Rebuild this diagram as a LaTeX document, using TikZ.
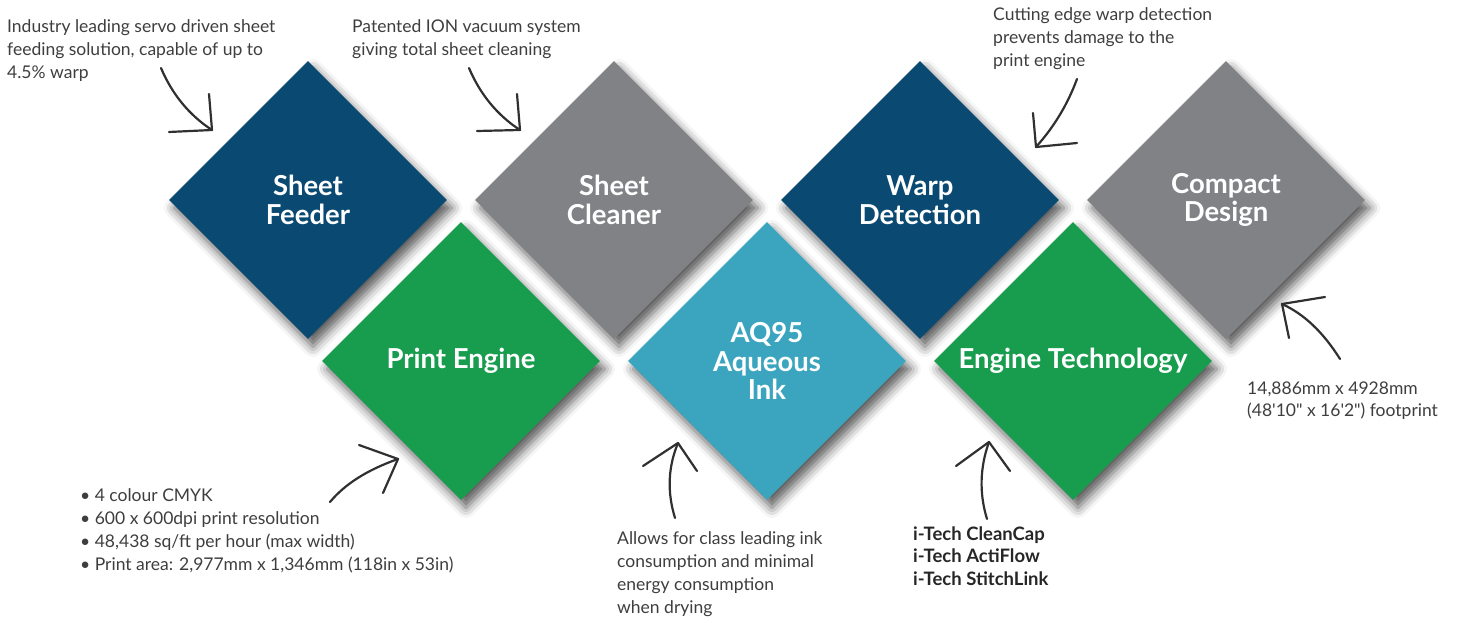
\documentclass[tikz,border=0pt]{standalone}
\usepackage{fontspec}
\setmainfont{Lato}
\usepackage{tikz}
\usetikzlibrary{shapes.geometric,shadows.blur}
\definecolor{navy}{RGB}{10,74,114}
\definecolor{slate}{RGB}{128,130,134}
\definecolor{leaf}{RGB}{24,156,78}
\definecolor{aqua}{RGB}{59,165,192}
\definecolor{ink}{RGB}{62,62,64}
\definecolor{pen}{RGB}{48,48,50}
\tikzset{
	tile/.style={diamond,aspect=1,inner sep=0pt,minimum width=278pt,minimum height=278pt,text=white,align=center,
		font=\fontsize{27.5}{28.5}\selectfont\bfseries,
		blur shadow={shadow xshift=5pt,shadow yshift=-8pt,shadow blur radius=10pt,shadow opacity=65}},
	note/.style={anchor=base west,inner sep=0pt,align=left,text=ink,font=\fontsize{17.5}{23}\selectfont},
	hand/.style={draw=pen,line width=2.2pt,line cap=round,line join=round}
}
\begin{document}
\begin{tikzpicture}[x=1pt,y=-1pt]
	\useasboundingbox (0,0) rectangle (1457,620);

	\node [tile,fill=navy] (feeder) at (308,200) {Sheet\\Feeder};
	\node [tile,fill=slate] (cleaner) at (614,200) {Sheet\\Cleaner};
	\node [tile,fill=navy] (warp) at (920,200) {Warp\\Detection};
	\node [tile,fill=slate] (compact) at (1226,200) {Compact\\Design};
	\node [tile,fill=leaf] (engine) at (461,361) {Print Engine};
	\node [tile,fill=aqua] (ink) at (767,361) {AQ95\\Aqueous\\Ink};
	\node [tile,fill=leaf] (tech) at (1073,361) {Engine Technology};

	% notes sit on the baseline of their last line
	\node [note] (nfeeder) at (7,79) {Industry leading servo driven sheet\\feeding solution, capable of up to\\4.5\% warp};
	\node [note] (ncleaner) at (352,56) {Patented ION vacuum system\\giving total sheet cleaning};
	\node [note] (nwarp) at (993,67) {Cutting edge warp detection\\prevents damage to the\\print engine};
	\node [note] (ncompact) at (1247,417) {14,886mm x 4928mm\\(48\textquotesingle10\textquotedbl{} x 16\textquotesingle2\textquotedbl) footprint};
	\node [note] (nengine) at (80,570) {\textbullet{} 4 colour CMYK\\\textbullet{} 600 x 600dpi print resolution\\\textbullet{} 48,438 sq/ft per hour (max width)\\\textbullet{} Print area: 2,977mm x 1,346mm (118in x 53in)};
	\node [note] (nink) at (617,613) {Allows for class leading ink\\consumption and minimal\\energy consumption\\when drying};
	\node [note,font=\fontsize{18.5}{22.5}\selectfont\bfseries,text=black!85] (ntech) at (913,585) {i-Tech CleanCap\\i-Tech ActiFlow\\i-Tech StitchLink};

	% hand drawn pointers
	\coordinate (a1) at (161,68);  \coordinate (h1) at (212,130);
	\coordinate (a2) at (469,68);  \coordinate (h2) at (520,130);
	\coordinate (a3) at (1077,79); \coordinate (h3) at (1036,147);
	\coordinate (a4) at (1340,359); \coordinate (h4) at (1282,304);
	\coordinate (a5) at (330,502); \coordinate (h5) at (398,459);
	\coordinate (a6) at (675,518); \coordinate (h6) at (678,443);
	\coordinate (a7) at (987,519); \coordinate (h7) at (989,442);

	\draw [hand] (a1) .. controls (172,94) and (189,115) .. (h1);
	\draw [hand] (209,94) -- (h1) -- (169,132);
	\draw [hand] (a2) .. controls (480,94) and (497,115) .. (h2);
	\draw [hand] (517,94) -- (h2) -- (477,131);
	\draw [hand] (a3) .. controls (1067,106) and (1053,128) .. (h3);
	\draw [hand] (1033,113) -- (h3) -- (1077,143);
	\draw [hand] (a4) .. controls (1323,332) and (1304,314) .. (h4);
	\draw [hand] (1325,297) -- (h4) -- (1289,338);
	\draw [hand] (a5) .. controls (345,484) and (367,470) .. (h5);
	\draw [hand] (359,445) -- (h5) -- (383,493);
	\draw [hand] (a6) .. controls (667,492) and (668,467) .. (h6);
	\draw [hand] (643,466) -- (h6) -- (697,471);
	\draw [hand] (a7) .. controls (979,493) and (980,467) .. (h7);
	\draw [hand] (956,466) -- (h7) -- (1010,471);
\end{tikzpicture}
\end{document}
